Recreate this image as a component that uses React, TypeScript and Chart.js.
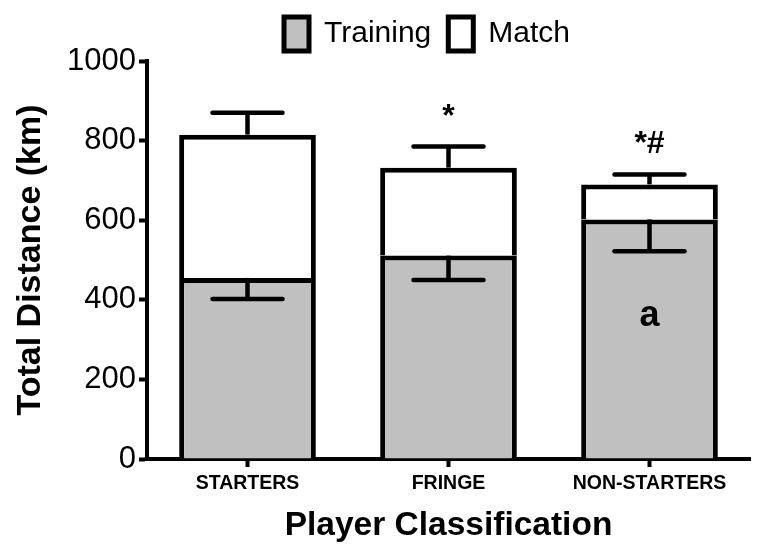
import React, { useEffect, useRef } from "react";
import { Chart, registerables } from "chart.js";

Chart.register(...registerables);

const categories = ["STARTERS", "FRINGE", "NON-STARTERS"];
const trainingValues = [455, 511, 602];
const matchValues = [360, 221, 88];
const trainingSD = [53, 61, 80];
const totalSD = [55, 53, 25];
const topMarks = ["", "*", "*#"];
const topMarkValues = [0, 860, 790];
const innerMarks = ["", "", "a"];
const innerMarkValues = [0, 0, 360];
const yTicks = [0, 200, 400, 600, 800, 1000];

const FONT = "'Liberation Sans', Arial, Helvetica, sans-serif";

const legendShiftPlugin = {
  id: "legendShift",
  afterLayout(chart: any) {
    const lg = chart.legend;
    if (lg) {
      lg.left += 52;
      lg.right += 52;
    }
  },
};

const errorPlugin = {
  id: "errorBars",
  afterDatasetsDraw(chart: any) {
    const ctx = chart.ctx;
    const xs = chart.scales.x;
    const ys = chart.scales.y;
    ctx.save();
    ctx.strokeStyle = "#000";
    ctx.lineWidth = 4.5;
    const half = 35;
    const seg = (x1: number, y1: number, x2: number, y2: number, cap: CanvasLineCap) => {
      ctx.lineCap = cap;
      ctx.beginPath();
      ctx.moveTo(x1, y1);
      ctx.lineTo(x2, y2);
      ctx.stroke();
    };
    for (let i = 0; i < categories.length; i++) {
      const cx = xs.getPixelForValue(i);
      const tTop = ys.getPixelForValue(trainingValues[i]);
      const tLow = ys.getPixelForValue(trainingValues[i] - trainingSD[i]);
      seg(cx, tTop, cx, tLow, "butt");
      seg(cx - half, tLow, cx + half, tLow, "round");
      const total = trainingValues[i] + matchValues[i];
      const mTop = ys.getPixelForValue(total);
      const mUp = ys.getPixelForValue(total + totalSD[i]);
      seg(cx, mTop, cx, mUp, "butt");
      seg(cx - half, mUp, cx + half, mUp, "round");
    }
    ctx.fillStyle = "#000";
    ctx.textAlign = "center";
    ctx.textBaseline = "middle";
    for (let i = 0; i < categories.length; i++) {
      const cx = xs.getPixelForValue(i);
      if (topMarks[i]) {
        ctx.font = `bold 32px ${FONT}`;
        ctx.fillText(topMarks[i], cx, ys.getPixelForValue(topMarkValues[i]));
      }
      if (innerMarks[i]) {
        ctx.font = `bold 36px ${FONT}`;
        ctx.fillText(innerMarks[i], cx, ys.getPixelForValue(innerMarkValues[i]));
      }
    }
    ctx.restore();
  },
};

export default function App() {
  const ref = useRef<HTMLCanvasElement | null>(null);
  useEffect(() => {
    if (!ref.current) return;
    const chart = new Chart(ref.current, {
      type: "bar",
      data: {
        labels: categories,
        datasets: [
          {
            label: "Training",
            data: trainingValues,
            backgroundColor: "#c0c0c0",
            borderColor: "#000",
            borderWidth: 5,
          },
          {
            label: "Match",
            data: matchValues,
            backgroundColor: "#ffffff",
            borderColor: "#000",
            borderWidth: 5,
          },
        ],
      },
      options: {
        animation: false,
        responsive: false,
        maintainAspectRatio: false,
        devicePixelRatio: 1,
        layout: { padding: { top: 0, right: 8, left: 0, bottom: 0 } },
        datasets: { bar: { barPercentage: 0.68, categoryPercentage: 1 } },
        plugins: {
          tooltip: { enabled: false },
          legend: {
            position: "top",
            labels: {
              color: "#000",
              font: { family: FONT, size: 30 },
              boxWidth: 25,
              boxHeight: 34,
              padding: 17,
            },
          },
        },
        scales: {
          x: {
            stacked: true,
            grid: {
              display: true,
              drawOnChartArea: false,
              offset: false,
              tickLength: 8,
              tickWidth: 4,
              tickColor: "#000",
            },
            border: { display: true, color: "#000", width: 4 },
            ticks: {
              color: "#000",
              font: { family: FONT, size: 19.5, weight: "bold" },
              padding: 5,
              maxRotation: 0,
            },
            title: {
              display: true,
              text: "Player Classification",
              color: "#000",
              font: { family: FONT, size: 33.5, weight: "bold" },
              padding: { top: 2, bottom: 4 },
            },
            afterFit(scale: any) {
              scale.height = 91;
            },
          },
          y: {
            stacked: true,
            min: 0,
            max: 1000,
            afterBuildTicks(scale: any) {
              scale.ticks = yTicks.map((v) => ({ value: v }));
            },
            grid: {
              display: true,
              drawOnChartArea: false,
              tickLength: 8,
              tickWidth: 4,
              tickColor: "#000",
            },
            border: { display: true, color: "#000", width: 4 },
            ticks: {
              color: "#000",
              font: { family: FONT, size: 31 },
              padding: 3,
              callback: (v: any) => String(v),
            },
            title: {
              display: true,
              text: "Total Distance (km)",
              color: "#000",
              font: { family: FONT, size: 34, weight: "bold" },
              padding: { top: 10, bottom: 0 },
            },
            afterFit(scale: any) {
              scale.width = 147;
            },
          },
        },
      },
      plugins: [errorPlugin, legendShiftPlugin],
    } as any);
    return () => chart.destroy();
  }, []);
  return (
    <div style={{ position: "absolute", left: 0, top: 0, width: 758, height: 550, background: "#fff" }}>
      <canvas ref={ref} width={758} height={550} />
    </div>
  );
}
